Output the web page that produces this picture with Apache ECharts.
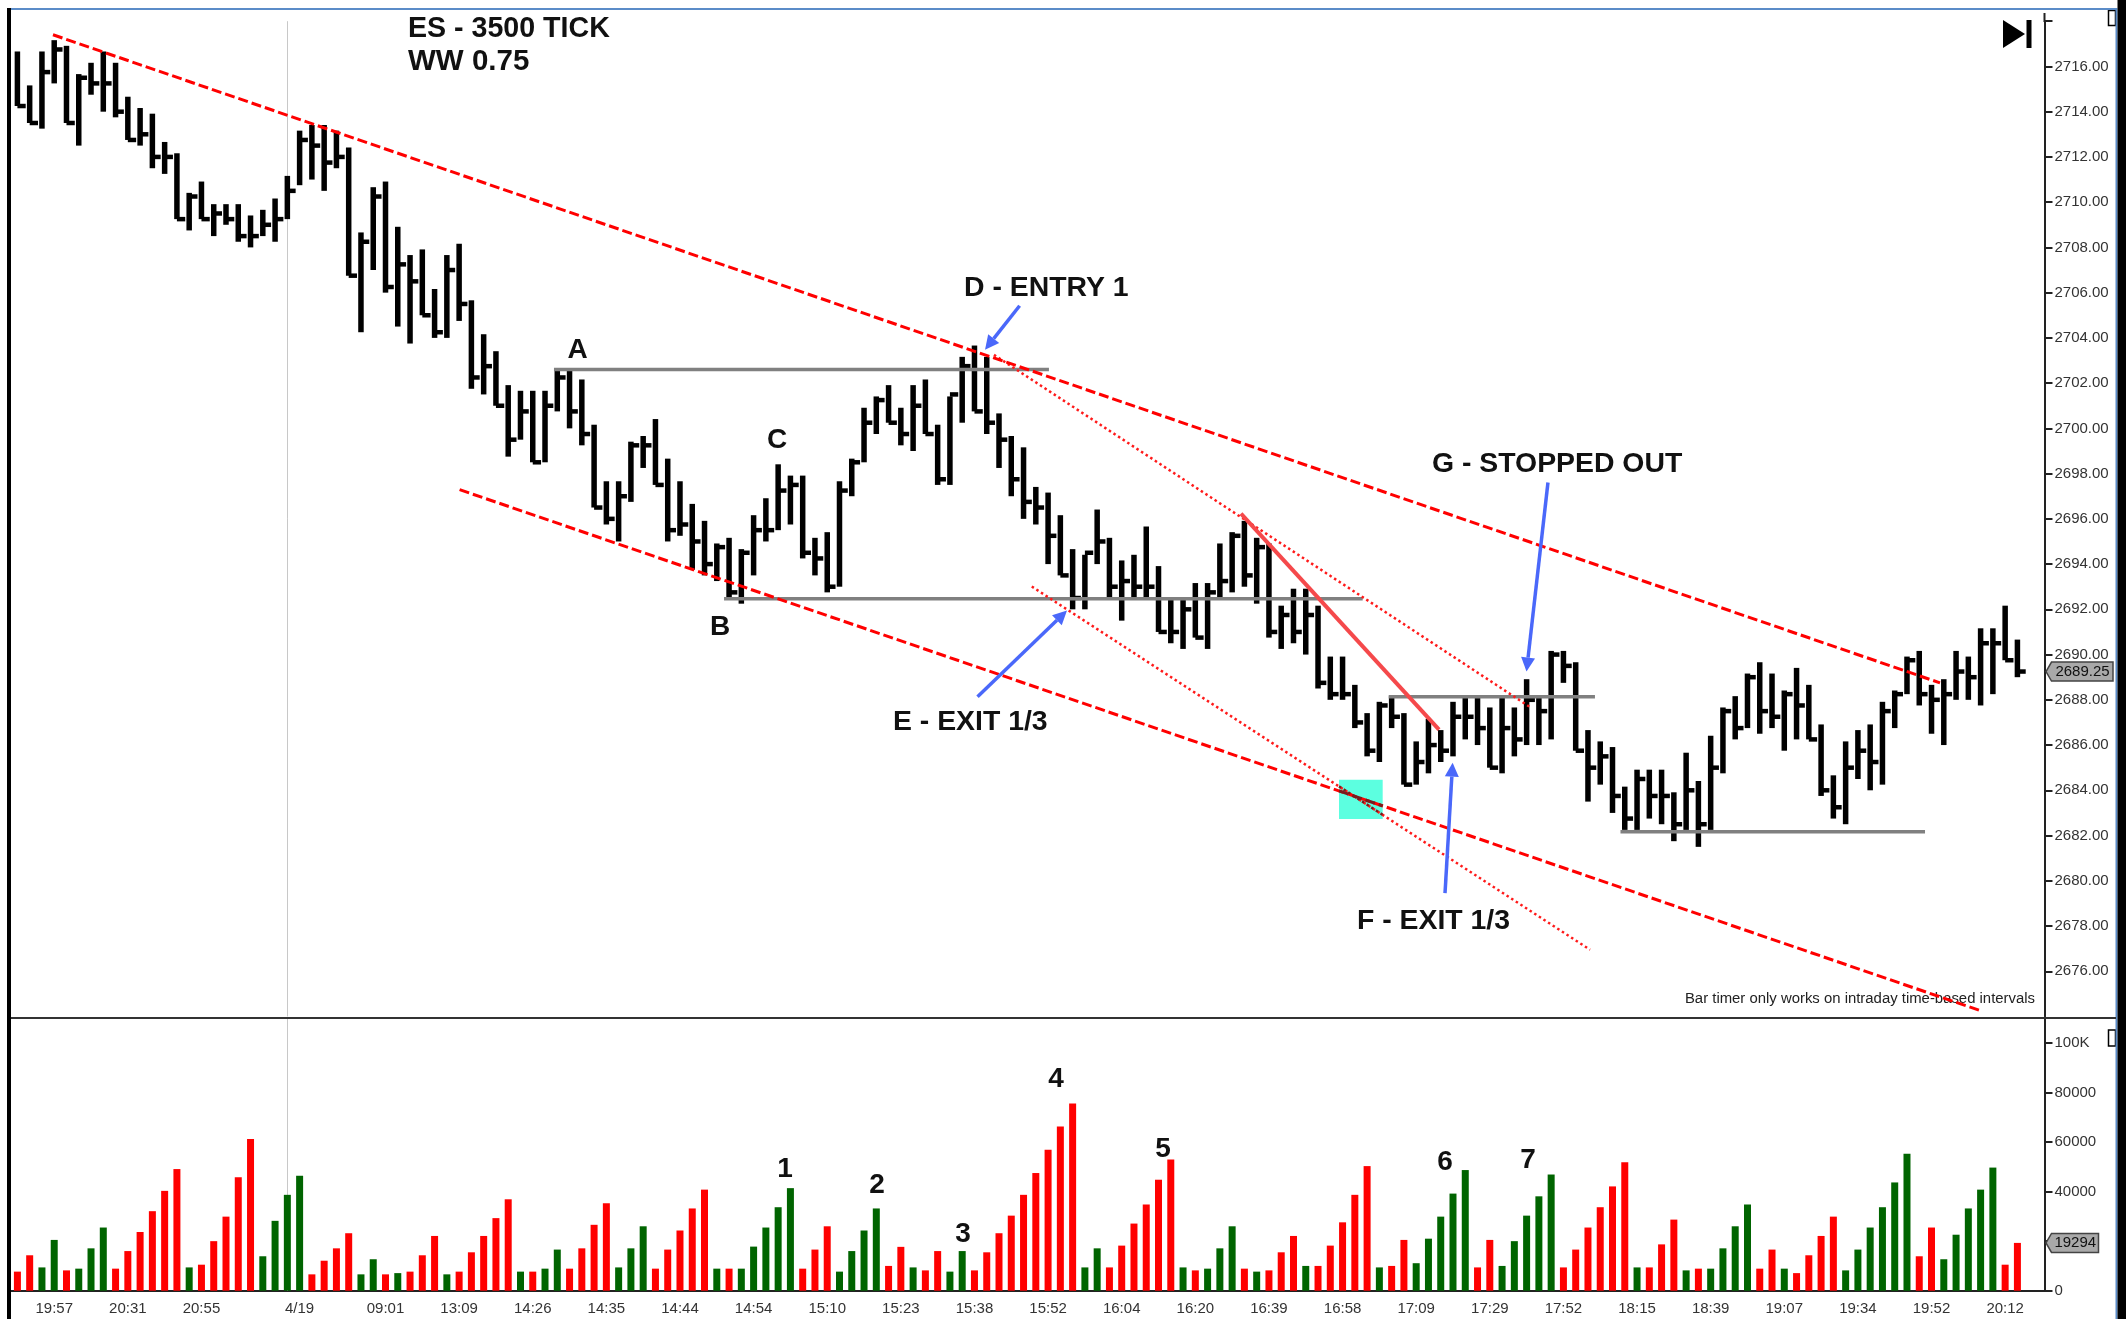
<!DOCTYPE html>
<html>
<head>
<meta charset="utf-8">
<title>ES - 3500 TICK</title>
<style>
  html, body { margin: 0; padding: 0; background: #fff; }
  #main { width: 2126px; height: 1319px; }
</style>
</head>
<body>
<div id="main"></div>
<script src="https://cdn.jsdelivr.net/npm/echarts@6/dist/echarts.min.js"></script>
<script>
// price bars (high, low, close), 0.25 tick size
var highs = [
  2716.75,2715.25,2716.75,2717.25,2717,2715.75,2716.25,2716.75,2716.25,2714.75,
  2714.25,2714,2712.75,2712.25,2710.5,2711,2710,2710,2710,2709.5,
  2709.75,2710.25,2711.25,2713.25,2713.5,2713.5,2713.25,2712.5,2708.75,2710.75,
  2711,2709,2707.75,2708,2706.25,2707.75,2708.25,2705.75,2704.25,2703.5,
  2702,2701.75,2701.75,2701.75,2702.75,2702.75,2702.25,2700.25,2697.75,2697.75,
  2699.5,2699.75,2700.5,2698.75,2697.75,2696.75,2696,2695,2695.25,2694.75,
  2696.25,2697,2698.5,2698,2698,2695.25,2695.5,2697.75,2698.75,2701,
  2701.5,2702,2701,2702,2702.25,2700.25,2701.5,2703.25,2703.75,2703.25,
  2700.75,2699.75,2699.25,2697.5,2697.25,2696.25,2694.75,2694.5,2696.5,2695.25,
  2694.25,2694.5,2695.75,2694,2692.5,2692.5,2693.25,2693.25,2695,2695.5,
  2696,2695.25,2695,2692.25,2693,2693,2692.25,2690,2690,2688.75,
  2687.5,2688,2688.25,2687.5,2686.25,2687.25,2686.75,2688,2688.25,2688.25,
  2687.75,2688.25,2687.75,2689,2688.25,2690.25,2690.25,2689.75,2686.75,2686.25,
  2686,2684.25,2685,2685,2685,2684,2685.75,2684.5,2686.5,2687.75,
  2688.25,2689.25,2689.75,2689.25,2688.5,2689.5,2688.75,2687,2684.75,2686.25,
  2686.75,2687,2688,2688.5,2690,2690.25,2688.75,2689,2690.25,2690,
  2691.25,2691.25,2692.25,2690.75
];
var lows = [
  2714.25,2713.5,2713.25,2715.25,2713.5,2712.5,2714.75,2714,2713.75,2712.75,
  2712.5,2711.5,2711.25,2709.25,2708.75,2709.25,2708.5,2709,2708.25,2708,
  2708.5,2708.25,2709.25,2710.75,2711,2710.5,2711.5,2706.75,2704.25,2707,
  2706,2704.5,2703.75,2705,2704,2704,2704.75,2701.75,2701.5,2701,
  2698.75,2699.5,2698.5,2698.5,2700.75,2700,2699.25,2696.5,2695.75,2695,
  2696.75,2698.25,2697.5,2695,2695.25,2693.75,2693.5,2693.25,2692.5,2692.25,
  2693.5,2695,2695.5,2695.75,2694.25,2693.5,2692.75,2693,2697,2698.5,
  2699.75,2700.25,2699.25,2699,2699.75,2697.5,2697.5,2700.25,2700.75,2699.75,
  2698.25,2697,2696,2695.75,2694,2693.5,2692,2692,2694,2692.5,
  2691.5,2692.5,2692.5,2691,2690.5,2690.25,2690.75,2690.25,2692.5,2692.75,
  2693,2692.25,2690.75,2690.25,2690.5,2690,2688.5,2688,2688,2686.75,
  2685.5,2685.25,2686.75,2684.25,2684.25,2684.75,2685.25,2685.5,2686.25,2686,
  2685,2684.75,2685.5,2686,2686,2686.25,2688.75,2685.75,2683.5,2684.25,
  2683,2682.25,2682.25,2682.75,2682.5,2681.75,2682.25,2681.5,2682.25,2684.75,
  2686.25,2686.75,2686.5,2686.75,2685.75,2686.25,2686.25,2683.75,2682.75,2682.5,
  2684.5,2684,2684.25,2686.75,2688.25,2687.75,2686.5,2686,2688,2688,
  2687.75,2688.25,2689.75,2689
];
var closes = [
  2714.25,2713.5,2715.75,2716.75,2713.5,2715.5,2715.25,2715.25,2714,2712.75,
  2713,2712,2712,2709.25,2710.25,2709.25,2709.5,2709.25,2708.5,2708.5,
  2709,2709.25,2710.5,2712.75,2712.5,2711.75,2712,2706.75,2708.25,2710.25,
  2706.25,2707.25,2706.5,2705,2704.25,2707,2705.5,2702.25,2702.75,2701,
  2699.5,2700.75,2698.5,2701,2702.25,2700.75,2699.75,2696.5,2696,2697,
  2699.25,2699.25,2697.5,2695.5,2695.75,2695,2694,2694.75,2692.75,2694.5,
  2695.5,2695.5,2697.25,2697.5,2694.5,2694.25,2693,2697.25,2698.5,2700.25,
  2701.25,2700.25,2699.75,2701,2699.75,2697.75,2701.5,2702.75,2700.75,2700.25,
  2699.5,2697.75,2696.75,2696.5,2695.25,2693.5,2692.5,2694.5,2695,2693,
  2693.25,2693,2693,2691,2691,2692,2690.75,2692.75,2693.25,2695.25,
  2693.5,2694.75,2691,2691.75,2691,2691.75,2688.75,2688.25,2688.25,2687,
  2685.75,2687.75,2687.25,2684.25,2685.25,2686,2685.75,2687.25,2687.25,2686.75,
  2685,2686.75,2686.25,2688,2687.5,2690,2689.5,2685.75,2685,2685.5,
  2683.75,2682.75,2684.5,2683.75,2683.75,2682.5,2684,2682.5,2685,2687.5,
  2686.75,2689,2687.5,2687.25,2688.25,2687.75,2686.25,2684,2683.25,2685,
  2685.75,2685.25,2687.5,2688.25,2689.75,2688.25,2688,2688.25,2689.25,2689,
  2690.5,2690.5,2689.75,2689.25
];

// volume per bar
var volumes = [
  7700,14300,9400,20500,8200,8900,17100,25500,8900,16000,
  23700,32100,40300,49100,9400,10500,20000,29900,45800,61200,
  13900,28200,38700,46400,6600,12100,17100,23200,6600,12700,
  6600,7100,7700,14300,22100,6600,7700,15500,22100,29300,
  36900,7700,7700,8900,16600,8900,17100,26600,35300,9400,
  17100,26000,8900,16600,24300,33200,40800,8900,8900,8900,
  17800,25500,33700,41400,8900,16600,26000,7700,16000,24300,
  33200,10000,17700,9400,8200,16000,7700,16000,8200,15500,
  23200,30300,38700,47500,56900,66300,75600,9400,17100,9400,
  18200,27100,34800,44800,53000,9400,8200,8900,17100,26000,
  8900,7700,8200,15500,22100,10000,10000,18200,27600,38700,
  50300,9400,10000,20500,11100,21000,29900,39200,48700,9400,
  20500,10000,20000,30300,38100,46900,9400,16600,25500,33700,
  42100,51900,9400,9400,18700,28700,8200,8900,8900,17100,
  26000,34800,8900,16600,8900,7100,14300,22100,29900,8200,
  16600,25500,33700,43700,55300,13900,25500,12700,22600,33200,
  40800,49700,10500,19294
];
var volumeSides = [
  'R','R','G','G','R','G','G','G','R','R',
  'R','R','R','R','G','R','R','R','R','R',
  'G','G','G','G','R','R','R','R','G','G',
  'R','G','R','R','R','G','R','R','R','R',
  'R','G','R','G','G','R','R','R','R','G',
  'G','G','R','R','R','R','R','G','R','G',
  'G','G','G','G','R','R','R','G','G','G',
  'G','R','R','G','R','R','G','G','R','R',
  'R','R','R','R','R','R','R','G','G','R',
  'R','R','R','R','R','G','R','G','G','G',
  'R','G','R','R','R','G','R','R','R','R',
  'R','G','R','R','G','G','G','G','G','R',
  'R','G','G','G','G','G','R','R','R','R',
  'R','R','G','R','R','R','G','R','G','G',
  'G','G','R','R','G','R','R','R','R','G',
  'G','G','G','G','G','R','R','G','G','G',
  'G','G','R','R'
];

// time axis: which bar carries which label
var tickBars = [3,9,15,23,30,36,42,48,54,60,66,72,78,84,90,96,102,108,114,120,126,132,138,144,150,156,162];
var tickLabels = ['19:57','20:31','20:55','4/19','09:01','13:09','14:26','14:35','14:44','14:54','15:10','15:23','15:38','15:52','16:04','16:20','16:39','16:58','17:09','17:29','17:52','18:15','18:39','19:07','19:34','19:52','20:12'];
var dayBreakBar = 22;

// value axis ticks
var priceTicks = [2676,2678,2680,2682,2684,2686,2688,2690,2692,2694,2696,2698,2700,2702,2704,2706,2708,2710,2712,2714,2716];
var volumeTicks = [0,20000,40000,60000,80000,100000];

// drawn trend lines, [bar, price, bar, price]
var channelLines = [[2.9,2717.4,156.69,2688.75],[36.04,2697.29,160.03,2674.25]];
var dottedLines = [[79.59,2703.25,123.36,2687.65],[82.67,2693.01,128.17,2676.95]];
var solidLines = [[99.72,2696.23,115.86,2686.68]];
var grayLines = [[43.73,2702.6,84.07,2702.6],[57.59,2692.47,109.64,2692.47],[111.76,2688.14,128.57,2688.14],[130.65,2682.17,155.47,2682.17]];
var arrowLines = [[81.68,2705.42,78.86,2703.48],[78.25,2688.14,85.54,2691.95],[116.35,2679.45,116.97,2685.22],[124.74,2697.61,122.99,2689.25]];
var highlightBox = [107.71,2684.47,111.27,2682.73];

var lastPrice = 2689.25;
var lastVolume = 19294;

var barCount = 166; // two empty slots before the axis
var categories = [];
var tickSet = {};
for (var i = 0; i < barCount; i++) categories.push('');
tickBars.forEach(function (b, k) { categories[b] = tickLabels[k]; tickSet[b] = true; });
var isTick = function (index) { return !!tickSet[index]; };

var axisColor = '#222';
var labelFont = { color: '#333', fontSize: 15, fontFamily: 'Liberation Sans' };

// rows for the price bars
var hlcRows = closes.map(function (c, k) { return [k, highs[k], lows[k], c]; });

function renderHlc(params, api) {
  var r = hlcRows[params.dataIndex];
  var top = api.coord([r[0], r[1]]);
  var bottom = api.coord([r[0], r[2]]);
  var close = api.coord([r[0], r[3]]);
  return {
    type: 'group',
    children: [
      { type: 'line', shape: { x1: top[0], y1: top[1] + 2, x2: bottom[0], y2: bottom[1] }, style: { stroke: '#000', lineWidth: 5.5 } },
      { type: 'line', shape: { x1: close[0], y1: close[1], x2: close[0] + 8.3, y2: close[1] }, style: { stroke: '#000', lineWidth: 4.5 } }
    ]
  };
}

// the part of a line that runs through the box comes out darker in the picture
function partInBox(l) {
  var t0 = (highlightBox[0] - l[0]) / (l[2] - l[0]);
  var t1 = (highlightBox[2] - l[0]) / (l[2] - l[0]);
  return [highlightBox[0], l[1] + (l[3] - l[1]) * t0, highlightBox[2], l[1] + (l[3] - l[1]) * t1];
}

// rows for the drawn lines
var annoRows = [highlightBox.concat('box')];
grayLines.forEach(function (l) { annoRows.push(l.concat('gray')); });
dottedLines.forEach(function (l) { annoRows.push(l.concat('dotted')); });
channelLines.forEach(function (l) { annoRows.push(l.concat('channel')); });
solidLines.forEach(function (l) { annoRows.push(l.concat('solid')); });
arrowLines.forEach(function (l) { annoRows.push(l.concat('arrow')); });
annoRows.push(partInBox(dottedLines[1]).concat('dottedDark'));
annoRows.push(partInBox(channelLines[1]).concat('channelDark'));

function renderAnno(params, api) {
  var r = annoRows[params.dataIndex];
  var a = api.coord([r[0], r[1]]);
  var b = api.coord([r[2], r[3]]);
  var kind = r[4];
  if (kind === 'box') {
    return {
      type: 'rect',
      shape: { x: a[0], y: a[1], width: b[0] - a[0], height: b[1] - a[1] },
      style: { fill: '#5cffe0' }
    };
  }
  var line = { x1: a[0], y1: a[1], x2: b[0], y2: b[1] };
  if (kind === 'gray') return { type: 'line', shape: line, style: { stroke: '#808080', lineWidth: 3.5 } };
  if (kind === 'channel') return { type: 'line', shape: line, style: { stroke: '#ff0000', lineWidth: 3, lineDash: [10, 4] } };
  if (kind === 'channelDark') return { type: 'line', shape: line, style: { stroke: '#7a1c1c', lineWidth: 3, lineDash: [10, 4] } };
  if (kind === 'dotted') return { type: 'line', shape: line, style: { stroke: '#ff1a1a', lineWidth: 2.5, lineDash: [2.5, 3] } };
  if (kind === 'dottedDark') return { type: 'line', shape: line, style: { stroke: '#7a1c1c', lineWidth: 2.5, lineDash: [2.5, 3] } };
  if (kind === 'solid') return { type: 'line', shape: line, style: { stroke: '#f5494b', lineWidth: 4 } };
  // arrow, line plus head
  var ang = Math.atan2(b[1] - a[1], b[0] - a[0]);
  var len = 14, half = 7;
  var bx = b[0] - Math.cos(ang) * len;
  var by = b[1] - Math.sin(ang) * len;
  var nx = -Math.sin(ang) * half;
  var ny = Math.cos(ang) * half;
  return {
    type: 'group',
    children: [
      { type: 'line', shape: { x1: a[0], y1: a[1], x2: bx, y2: by }, style: { stroke: '#4a68fa', lineWidth: 3.5 } },
      { type: 'polygon', shape: { points: [[b[0], b[1]], [bx + nx, by + ny], [bx - nx, by - ny]] }, style: { fill: '#4a68fa' } }
    ]
  };
}

var chart = echarts.init(document.getElementById('main'), null, { renderer: 'canvas' });

var gridLeft = 11.27;
var gridWidth = 12.27 * barCount;

var dayBreak = {
  silent: true, symbol: 'none', z: 1, label: { show: false },
  lineStyle: { color: '#c8c8c8', width: 1, type: 'solid' },
  data: [{ xAxis: dayBreakBar }]
};

var option = {
  animation: false,
  backgroundColor: '#fff',
  grid: [
    { left: gridLeft, top: 21.2, width: gridWidth, height: 995.3 },
    { left: gridLeft, top: 1018.2, width: gridWidth, height: 272.5 }
  ],
  xAxis: [
    { type: 'category', gridIndex: 0, data: categories, show: false },
    {
      type: 'category', gridIndex: 1, data: categories,
      axisLine: { lineStyle: { color: axisColor, width: 2 } },
      axisTick: { alignWithLabel: true, interval: function (index) { return isTick(index); }, length: 8, lineStyle: { color: axisColor, width: 2 } },
      axisLabel: Object.assign({ interval: function (index) { return isTick(index); }, margin: 11 }, labelFont)
    },
    { type: 'value', gridIndex: 0, min: -0.5, max: barCount - 0.5, show: false }
  ],
  yAxis: [
    {
      type: 'value', gridIndex: 0, position: 'right', offset: -3.6,
      min: 2674, max: 2718, interval: 2, scale: true,
      splitLine: { show: false },
      axisLine: { show: true, onZero: false, lineStyle: { color: axisColor, width: 2 } },
      axisTick: { show: true, length: 8, customValues: priceTicks.concat(2718), lineStyle: { color: axisColor, width: 2 } },
      axisLabel: Object.assign({
        margin: 10, padding: [4, 0, 0, 0], customValues: priceTicks,
        formatter: function (v) { return v.toFixed(2); }
      }, labelFont)
    },
    {
      type: 'value', gridIndex: 1, position: 'right', offset: -3.6,
      min: 0, max: 110000, interval: 20000,
      splitLine: { show: false },
      axisLine: { show: true, lineStyle: { color: axisColor, width: 2 } },
      axisTick: { show: true, length: 8, customValues: volumeTicks, lineStyle: { color: axisColor, width: 2 } },
      axisLabel: Object.assign({
        margin: 10, customValues: volumeTicks,
        formatter: function (v) { return v === 100000 ? '100K' : String(v); }
      }, labelFont)
    }
  ],
  series: [
    {
      name: 'price', type: 'custom', xAxisIndex: 0, yAxisIndex: 0, z: 3,
      encode: { x: 0, y: [1, 2, 3] },
      renderItem: renderHlc, data: hlcRows, silent: true,
      markLine: dayBreak
    },
    {
      name: 'volume', type: 'bar', xAxisIndex: 1, yAxisIndex: 1, barWidth: 7, z: 3,
      data: volumes.map(function (v, k) {
        return { value: v, itemStyle: { color: volumeSides[k] === 'G' ? '#006400' : '#ff0000' } };
      }),
      markLine: dayBreak
    },
    {
      name: 'lines', type: 'custom', xAxisIndex: 2, yAxisIndex: 0,
      encode: { x: [0, 2], y: [1, 3] }, z: 5,
      renderItem: renderAnno, data: annoRows, silent: true
    }
  ]
};
chart.setOption(option);

// frame, notes and the two value tags
function note(text, x, y, size, extra) {
  return {
    type: 'text', z: 20,
    style: Object.assign({
      text: text, x: x, y: y, fill: '#111',
      font: 'bold ' + size + 'px "Liberation Sans"',
      textAlign: 'center', textVerticalAlign: 'middle'
    }, extra || {})
  };
}
function frameRect(x, y, w, h, fill) {
  return { type: 'rect', z: 30, shape: { x: x, y: y, width: w, height: h }, style: { fill: fill } };
}
function valueTag(y, right, text) {
  return [
    {
      type: 'polygon', z: 25,
      shape: { points: [[2046, y], [2051.5, y - 9.5], [right, y - 9.5], [right, y + 9.5], [2051.5, y + 9.5]] },
      style: { fill: '#a9a9a9', stroke: '#444', lineWidth: 1.5 }
    },
    {
      type: 'text', z: 26,
      style: { text: text, x: (2052 + right) / 2, y: y, fill: '#111', font: '15px "Liberation Sans"', textAlign: 'center', textVerticalAlign: 'middle' }
    }
  ];
}

var priceY = chart.convertToPixel({ yAxisIndex: 0 }, lastPrice);
var volumeY = chart.convertToPixel({ yAxisIndex: 1 }, lastVolume);

var elements = [
  // white margin past the blue line, then the frame
  frameRect(0, 0, 2126, 8, '#fff'),
  frameRect(7, 8, 2110, 2, '#5b8cc8'),
  frameRect(7, 8, 4, 1311, '#000'),
  frameRect(2115.5, 8, 2, 1311, '#5b8cc8'),
  frameRect(2117.5, 0, 8.5, 1319, '#000'),
  frameRect(11, 1017, 2105, 2, '#333'),
  frameRect(2043.5, 13, 2, 9, axisColor),
  // play to end marker
  { type: 'polygon', z: 20, shape: { points: [[2003, 20], [2025, 34], [2003, 48]] }, style: { fill: '#000' } },
  frameRect(2026.5, 20, 5, 28, '#000'),
  // small boxes at the corner of each pane
  { type: 'rect', z: 20, shape: { x: 2108.5, y: 10.5, width: 7, height: 15 }, style: { fill: '#fff', stroke: '#000', lineWidth: 1.5 } },
  { type: 'rect', z: 20, shape: { x: 2108.5, y: 1030, width: 7, height: 16 }, style: { fill: '#fff', stroke: '#000', lineWidth: 1.5 } },
  // notes
  note('ES - 3500 TICK', 408, 29, 28.6, { textAlign: 'left' }),
  note('WW 0.75', 408, 62, 29.5, { textAlign: 'left' }),
  note('A', 577.5, 350, 28),
  note('B', 720, 627, 28),
  note('C', 777, 440, 28),
  note('D - ENTRY 1', 964, 288, 28.4, { textAlign: 'left' }),
  note('E - EXIT 1/3', 893, 722, 28.4, { textAlign: 'left' }),
  note('F - EXIT 1/3', 1357, 921, 28.4, { textAlign: 'left' }),
  note('G - STOPPED OUT', 1432, 464, 28.4, { textAlign: 'left' }),
  note('1', 785, 1169, 28),
  note('2', 877, 1185, 28),
  note('3', 963, 1234, 28),
  note('4', 1056, 1079.5, 28),
  note('5', 1163, 1149.5, 28),
  note('6', 1445, 1162, 28),
  note('7', 1528, 1160.5, 28),
  {
    type: 'text', z: 2,
    style: { text: 'Bar timer only works on intraday time-based intervals', x: 2035, y: 998.5, fill: '#222', font: '14.9px "Liberation Sans"', textAlign: 'right', textVerticalAlign: 'middle' }
  }
].concat(valueTag(priceY, 2113, '2689.25'), valueTag(volumeY, 2098.5, '19294'));

chart.setOption({ graphic: { elements: elements } });
</script>
</body>
</html>
